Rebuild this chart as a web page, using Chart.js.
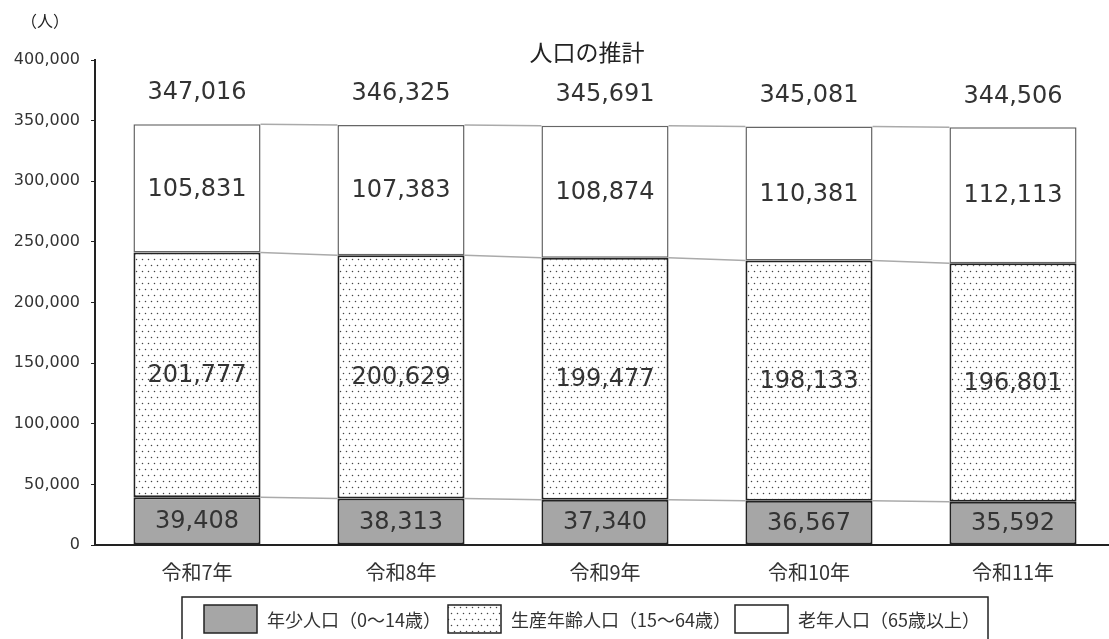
<!DOCTYPE html>
<html lang="ja">

<head>
    <meta charset="UTF-8">
    <script src="https://cdnjs.cloudflare.com/ajax/libs/Chart.js/4.4.1/chart.umd.min.js"></script>
    <title>人口の推計</title>
    <style>
        body { margin: 0; overflow: hidden; background: #fff; }
    </style>
</head>

<body>
    <canvas id="myChart" width="1120" height="639"></canvas>

    <script>
        // data
        const years = ['令和7年', '令和8年', '令和9年', '令和10年', '令和11年'];
        const young = [39408, 38313, 37340, 36567, 35592];
        const working = [201777, 200629, 199477, 198133, 196801];
        const elderly = [105831, 107383, 108874, 110381, 112113];
        const seriesNames = ['年少人口（0～14歳）', '生産年齢人口（15～64歳）', '老年人口（65歳以上）'];
        const yTicks = [0, 50000, 100000, 150000, 200000, 250000, 300000, 350000, 400000];

        const numFont = '"DejaVu Sans", sans-serif';
        const jpFont = '"Noto Sans CJK JP", sans-serif';
        const fmt = (v) => v.toLocaleString('en-US');

        var ctx = document.getElementById('myChart').getContext('2d');

        // dotted fill for the working-age segment
        function dots() {
            const c = document.createElement('canvas');
            c.width = 6; c.height = 12;
            const g = c.getContext('2d');
            g.fillStyle = '#fff';
            g.fillRect(0, 0, 6, 12);
            g.fillStyle = '#444';
            g.beginPath(); g.arc(1.5, 1.5, 0.75, 0, Math.PI * 2); g.fill();
            g.beginPath(); g.arc(4.5, 7.5, 0.75, 0, Math.PI * 2); g.fill();
            return ctx.createPattern(c, 'repeat');
        }

        const extras = {
            id: 'extras',
            beforeDatasetsDraw(chart) {
                // grey connectors between the segment tops
                const c = chart.ctx;
                c.save();
                c.strokeStyle = '#aaa';
                c.lineWidth = 1.5;
                chart.data.datasets.forEach((ds, d) => {
                    const bars = chart.getDatasetMeta(d).data;
                    for (let i = 0; i < bars.length - 1; i++) {
                        const a = bars[i], b = bars[i + 1];
                        c.beginPath();
                        c.moveTo(a.x + a.width / 2, a.y);
                        c.lineTo(b.x - b.width / 2, b.y);
                        c.stroke();
                    }
                });
                c.restore();
            },
            afterDraw(chart) {
                const c = chart.ctx;
                const y = chart.scales.y;
                c.save();
                c.fillStyle = '#333';
                c.textAlign = 'center';
                c.textBaseline = 'middle';

                // values inside each segment
                c.font = '24px ' + numFont;
                chart.data.datasets.forEach((ds, d) => {
                    chart.getDatasetMeta(d).data.forEach((bar, i) => {
                        c.fillText(fmt(ds.data[i]), bar.x, (bar.y + bar.base) / 2 + 1);
                    });
                });

                // totals above the bars
                const top = chart.getDatasetMeta(2).data;
                years.forEach((yr, i) => {
                    const total = young[i] + working[i] + elderly[i];
                    c.fillText(fmt(total), top[i].x, y.getPixelForValue(total) - 31);
                });

                // title and unit
                c.fillStyle = '#222';
                c.font = '23px ' + jpFont;
                c.fillText('人口の推計', 587, 52);
                c.font = '16px ' + jpFont;
                c.fillText('（人）', 45, 21);

                // legend box
                c.strokeStyle = '#222';
                c.lineWidth = 1.5;
                c.strokeRect(182, 597, 806, 46);
                const swatchX = [204, 448, 735];
                c.textAlign = 'left';
                c.font = '18px ' + jpFont;
                chart.data.datasets.forEach((ds, d) => {
                    c.fillStyle = ds.backgroundColor;
                    c.fillRect(swatchX[d], 605, 53, 28);
                    c.strokeStyle = '#222';
                    c.lineWidth = 1.5;
                    c.strokeRect(swatchX[d], 605, 53, 28);
                    c.fillStyle = '#333';
                    c.fillText(ds.label, swatchX[d] + 63, 620);
                });
                c.restore();
            }
        };

        var myChart = new Chart(ctx, {
            type: 'bar',
            data: {
                labels: years,
                datasets: [{
                    label: seriesNames[0],
                    data: young,
                    backgroundColor: '#a6a6a6',
                    borderColor: '#222',
                    borderWidth: 2
                }, {
                    label: seriesNames[1],
                    data: working,
                    backgroundColor: dots(),
                    borderColor: '#222',
                    borderWidth: 2
                }, {
                    label: seriesNames[2],
                    data: elderly,
                    backgroundColor: '#fff',
                    borderColor: '#666',
                    borderWidth: 1.5
                }]
            },
            options: {
                responsive: false,
                animation: false,
                devicePixelRatio: 1,
                layout: { padding: { top: 60, right: 5, left: 0, bottom: 0 } },
                datasets: {
                    bar: { barPercentage: 0.623, categoryPercentage: 1, borderSkipped: false }
                },
                plugins: {
                    legend: { display: false },
                    tooltip: { enabled: false },
                    title: { display: false }
                },
                scales: {
                    x: {
                        stacked: true,
                        grid: { display: false, drawTicks: false },
                        border: { display: true, color: '#222', width: 2 },
                        ticks: { color: '#333', padding: 15, font: { family: jpFont, size: 20 } },
                        afterFit: (s) => { s.height = 94; }
                    },
                    y: {
                        stacked: true,
                        min: 0,
                        max: 400000,
                        afterBuildTicks: (s) => { s.ticks = yTicks.map((v) => ({ value: v })); },
                        grid: { drawOnChartArea: false, tickLength: 4, color: '#222' },
                        border: { display: true, color: '#222', width: 2 },
                        ticks: {
                            color: '#333',
                            padding: 11,
                            font: { family: numFont, size: 16 },
                            callback: (v) => fmt(v)
                        },
                        afterFit: (s) => { s.width = 95; }
                    }
                }
            },
            plugins: [extras]
        });
    </script>

</body>

</html>
